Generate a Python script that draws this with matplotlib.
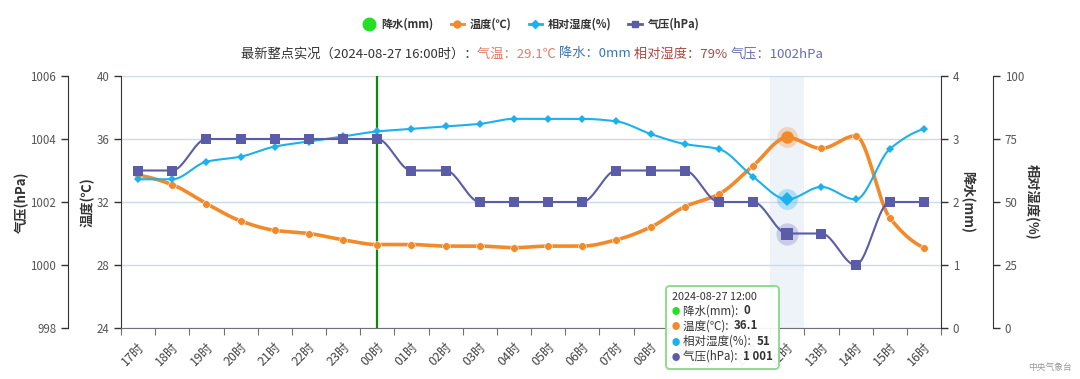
import numpy as np
import matplotlib
matplotlib.use('Agg')
import matplotlib.pyplot as plt
from matplotlib.lines import Line2D
from matplotlib.offsetbox import TextArea, HPacker, VPacker, AnnotationBbox, AnchoredOffsetbox

plt.rcParams['font.family'] = ['Noto Sans CJK SC', 'DejaVu Sans']

hours = ['17时', '18时', '19时', '20时', '21时', '22时', '23时', '00时', '01时', '02时',
         '03时', '04时', '05时', '06时', '07时', '08时', '09时', '10时', '11时', '12时',
         '13时', '14时', '15时', '16时']
precip = [0] * 24
temp = [33.7, 33.1, 31.9, 30.8, 30.2, 30.0, 29.6, 29.3, 29.3, 29.2, 29.2, 29.1,
        29.2, 29.2, 29.6, 30.4, 31.7, 32.5, 34.3, 36.1, 35.4, 36.2, 31.0, 29.1]
humid = [59, 59, 66, 68, 72, 74, 76, 78, 79, 80, 81, 83,
         83, 83, 82, 77, 73, 71, 60, 51, 56, 51, 71, 79]
press = [1003, 1003, 1004, 1004, 1004, 1004, 1004, 1004, 1003, 1003, 1002, 1002,
         1002, 1002, 1003, 1003, 1003, 1002, 1002, 1001, 1001, 1000, 1002, 1002]
day_line_label = '00时'
hover_label = '12时'

C_RAIN = '#22e022'
C_TEMP = '#f28a2b'
C_HUM = '#1cb1ea'
C_PRES = '#5a5ca8'


def pchip(x, y, n=24):
    x = np.asarray(x, float); y = np.asarray(y, float)
    h = np.diff(x); d = np.diff(y) / h
    m = np.zeros_like(y)
    for k in range(1, len(y) - 1):
        if d[k - 1] * d[k] > 0:
            w1 = 2 * h[k] + h[k - 1]; w2 = h[k] + 2 * h[k - 1]
            m[k] = (w1 + w2) / (w1 / d[k - 1] + w2 / d[k])
    m[0] = 0 if d[0] == 0 else d[0] * 0.5
    m[-1] = 0 if d[-1] == 0 else d[-1] * 0.5
    xs, ys = [], []
    for k in range(len(y) - 1):
        t = np.linspace(0, 1, n, endpoint=(k == len(y) - 2))
        h00 = 2 * t**3 - 3 * t**2 + 1; h10 = t**3 - 2 * t**2 + t
        h01 = -2 * t**3 + 3 * t**2; h11 = t**3 - t**2
        xs.append(x[k] + t * h[k])
        ys.append(h00 * y[k] + h10 * h[k] * m[k] + h01 * y[k + 1] + h11 * h[k] * m[k + 1])
    return np.concatenate(xs), np.concatenate(ys)


W, H = 1080, 379
fig = plt.figure(figsize=(W / 100, H / 100), dpi=100)
L, R, T, B = 121, 941, 76, 328
ax = fig.add_axes([L / W, 1 - B / H, (R - L) / W, (B - T) / H])
ax_p = ax.twinx()
ax_r = ax.twinx()
ax_h = ax.twinx()

x = np.arange(len(hours))
ax.set_xlim(-0.5, len(hours) - 0.5)
ax.set_ylim(24, 40)
ax_p.set_ylim(998, 1006)
ax_r.set_ylim(0, 4)
ax_h.set_ylim(0, 100)

AXC = '#333333'
LBLC = '#555555'
for a in (ax, ax_p, ax_r, ax_h):
    for s in a.spines.values():
        s.set_visible(False)
    a.tick_params(axis='y', colors=AXC, labelcolor=LBLC, labelsize=8.3, length=5, width=1)

ax.spines['left'].set_visible(True); ax.spines['left'].set_color(AXC)
ax.spines['bottom'].set_visible(True); ax.spines['bottom'].set_color('#6e7079')
ax.set_yticks([24, 28, 32, 36, 40])

ax_p.yaxis.set_ticks_position('left'); ax_p.yaxis.set_label_position('left')
ax_p.spines['left'].set_visible(True); ax_p.spines['left'].set_color(AXC)
ax_p.spines['left'].set_position(('axes', (68 - L) / (R - L)))
ax_p.set_yticks([998, 1000, 1002, 1004, 1006])

ax_r.spines['right'].set_visible(True); ax_r.spines['right'].set_color(AXC)
ax_r.set_yticks([0, 1, 2, 3, 4])

ax_h.spines['right'].set_visible(True); ax_h.spines['right'].set_color(AXC)
ax_h.spines['right'].set_position(('axes', (993 - L) / (R - L)))
ax_h.set_yticks([0, 25, 50, 75, 100])

# x axis: ticks at boundaries, labels at centers
ax.set_xticks(np.arange(-0.5, len(hours), 1.0))
ax.set_xticklabels([])
ax.tick_params(axis='x', which='major', length=5, color='#6e7079')
ax.set_xticks(x, minor=True)
ax.set_xticklabels(hours, minor=True, rotation=45, ha='right', va='top',
                   rotation_mode='anchor', fontsize=9, color='#444444')
ax.tick_params(axis='x', which='minor', length=0, pad=9)

ax.grid(axis='y', color='#ccdae8', lw=1)
ax.set_axisbelow(True)

# hover band and day line
hi = hours.index(hover_label)
ax.axvspan(hi - 0.5, hi + 0.5, color='#eef3fa', zorder=0.5, lw=0)
ax.axvline(hours.index(day_line_label), color='#0a8a0a', lw=1.6, zorder=2)

# precipitation bars (zero)
ax.bar(x, precip, width=0.5, color=C_RAIN, transform=ax_r.transData, zorder=2)

# temperature
xs, ys = pchip(x, temp)
ax.plot(xs, ys, color=C_TEMP, lw=2.6, zorder=3, solid_capstyle='round')
ax.plot(x, temp, 'o', color=C_TEMP, ms=5.5, zorder=3.1, mec='white', mew=0.4)
# humidity
xs, ys = pchip(x, humid)
ax.plot(xs, ys, color=C_HUM, lw=1.5, zorder=4, transform=ax_h.transData)
ax.plot(x, humid, 'D', color=C_HUM, ms=4.5, zorder=4.1, transform=ax_h.transData, mew=0)
# pressure
xs, ys = pchip(x, press)
ax.plot(xs, ys, color=C_PRES, lw=1.5, zorder=5, transform=ax_p.transData)
ax.plot(x, press, 's', color=C_PRES, ms=6.5, zorder=5.1, transform=ax_p.transData, mew=0)

# hover emphasis
ax.plot(hi, temp[hi], 'o', color=C_TEMP, ms=15, alpha=0.3, zorder=3.2, mew=0)
ax.plot(hi, temp[hi], 'o', color=C_TEMP, ms=9, zorder=3.3, mew=0)
ax.plot(hi, humid[hi], 'o', color=C_HUM, ms=15, alpha=0.3, zorder=4.2, mew=0, transform=ax_h.transData)
ax.plot(hi, humid[hi], 'D', color=C_HUM, ms=7, zorder=4.3, mew=0, transform=ax_h.transData)
ax.plot(hi, press[hi], 'o', color=C_PRES, ms=16, alpha=0.25, zorder=5.2, mew=0, transform=ax_p.transData)
ax.plot(hi, press[hi], 's', color=C_PRES, ms=9, zorder=5.3, mew=0, transform=ax_p.transData)

# axis titles
tk = dict(ha='center', va='center', fontsize=9.5, fontweight='bold', color='#333333')
fig.text(22 / W, 1 - 202 / H, '气压(hPa)', rotation=90, **tk)
fig.text(88 / W, 1 - 202 / H, '温度(℃)', rotation=90, **tk)
fig.text(967 / W, 1 - 202 / H, '降水(mm)', rotation=270, **tk)
fig.text(1032 / W, 1 - 202 / H, '相对湿度(%)', rotation=270, **tk)

# legend
handles = [
    Line2D([], [], ls='none', marker='o', color=C_RAIN, ms=9),
    Line2D([], [], color=C_TEMP, lw=2, marker='o', ms=5),
    Line2D([], [], color=C_HUM, lw=2, marker='D', ms=4),
    Line2D([], [], color=C_PRES, lw=2, marker='s', ms=5),
]
labels = ['降水(mm)', '温度(℃)', '相对湿度(%)', '气压(hPa)']
leg = fig.legend(handles, labels, loc='center', bbox_to_anchor=(531 / W, 1 - 24 / H), ncol=4,
                 frameon=False, handlelength=1.2, handletextpad=0.55, columnspacing=1.5,
                 prop={'size': 8, 'weight': 'bold'})
for t in leg.get_texts():
    t.set_color('#333333')

# subtitle
parts = [('最新整点实况（2024-08-27 16:00时）：', '#333333'),
         ('气温：29.1℃ ', '#e57b68'),
         ('降水：0mm ', '#3a76ad'),
         ('相对湿度：79% ', '#a84a45'),
         ('气压：1002hPa', '#676cae')]
boxes = [TextArea(s, textprops=dict(color=c, fontsize=9.5)) for s, c in parts]
hp = HPacker(children=boxes, align='baseline', pad=0, sep=0)
ab = AnchoredOffsetbox(loc='center', child=hp, bbox_to_anchor=(532 / W, 1 - 54 / H),
                       bbox_transform=fig.transFigure, frameon=False, pad=0, borderpad=0)
fig.add_artist(ab)

# tooltip
rows = [HPacker(children=[TextArea('2024-08-27 12:00', textprops=dict(fontsize=7.8, color='#333333'))], pad=0, sep=0)]
tips = [('降水(mm): ', '0', C_RAIN), ('温度(℃): ', f'{temp[hi]}', C_TEMP),
        ('相对湿度(%): ', f'{humid[hi]}', C_HUM), ('气压(hPa): ', '1 001', C_PRES)]
for lab, val, c in tips:
    rows.append(HPacker(children=[
        TextArea('●', textprops=dict(fontsize=6, color=c)),
        TextArea(lab, textprops=dict(fontsize=8.3, color='#333333')),
        TextArea(val, textprops=dict(fontsize=8.3, color='#333333', fontweight='bold'))],
        align='baseline', pad=0, sep=2))
vp = VPacker(children=rows, align='left', pad=0, sep=1.6)
tip = AnnotationBbox(vp, (672, H - 292), xycoords='figure pixels', box_alignment=(0, 1),
                     frameon=True, pad=0.45,
                     bboxprops=dict(boxstyle='round,pad=0.45,rounding_size=0.3', fc='white',
                                    ec='#86d986', lw=1.4, alpha=0.93))
tip.set_zorder(30)
fig.add_artist(tip)

fig.text(1050 / W, 1 - 367 / H, '中央气象台', ha='center', va='center', fontsize=6.3, color='#999999')

fig.savefig('out.png', dpi=100)
